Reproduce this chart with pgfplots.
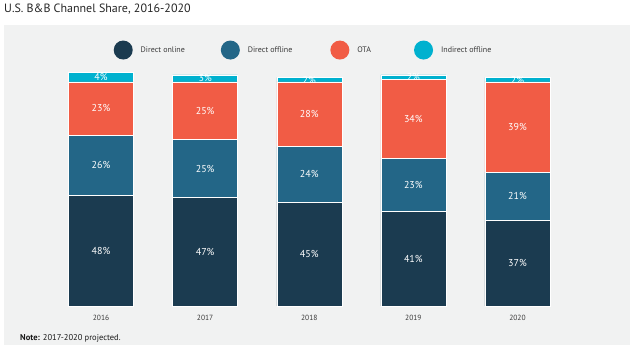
\documentclass[border=0pt]{standalone}
\usepackage{pgfplots}
\pgfplotsset{compat=1.18}
\usepackage{pgfplotstable}
\usepackage{fontspec}
\setmainfont{PT Sans}
\definecolor{conline}{HTML}{1B3B50}
\definecolor{coffline}{HTML}{236687}
\definecolor{cota}{HTML}{F15C45}
\definecolor{cind}{HTML}{00B1CF}
\definecolor{panel}{HTML}{F1F2F2}
\definecolor{txt}{HTML}{3A3A3A}
\pgfplotstableread{
x on off ota ind
0 48 26 23 4
1 47 25 25 3
2 45 24 28 2
3 41 23 34 2
4 37 21 39 2
}\datatable
\begin{document}
\begin{tikzpicture}
\useasboundingbox (0pt,0pt) rectangle (636pt,347pt);
\fill[white] (0pt,0pt) rectangle (636pt,347pt);
\fill[panel] (4pt,2pt) rectangle (630pt,322pt);
\node[anchor=base west, inner sep=0pt, font=\fontsize{12}{14}\selectfont, text=black!85] at (4pt,334pt) {U.S. B\&B Channel Share, 2016-2020};
\node[anchor=base west, inner sep=0pt, font=\fontsize{8.5}{10}\selectfont, text=black!90] at (20pt,6pt) {\textbf{Note:} 2017-2020 projected.};
\begin{axis}[
  anchor=south west, at={(49pt,41pt)},
  x=104.1pt, y=2.31pt,
  xmin=-0.5, xmax=4.5, ymin=0, ymax=100,
  ybar stacked, bar width=65pt,
  axis line style={draw=none},
  major tick style={draw=none},
  ytick=\empty,
  xtick={0,1,2,3,4}, xticklabels={2016,2017,2018,2019,2020},
  xticklabel style={anchor=base, yshift=-15pt, font=\fontsize{7.5}{9}\selectfont, text=txt},
  clip=false,
  /pgf/number format/assume math mode=true,
  nodes near coords={\textcolor{white}{\pgfmathprintnumber{\myv}\%}},
  every node near coord/.append style={anchor=center, text=white, font=\fontsize{10}{11}\selectfont},
  legend columns=4,
  legend style={draw=none, fill=none, inner sep=0pt, anchor=west, at={(0.124,1.108)}, font=\fontsize{8}{9}\selectfont, text=txt,
    /tikz/every odd column/.style={column sep=6pt},
    /tikz/every even column/.style={column sep=34pt}},
  legend image code/.code={\fill[#1,/tikz/.cd,draw=none] (9.5pt,0pt) circle (9.5pt);},
]
\addplot[fill=conline, draw=white, line width=0.4pt, visualization depends on={\thisrow{on} \as \myv}] table[x=x,y=on] {\datatable};
\addplot[fill=coffline, draw=white, line width=0.4pt, visualization depends on={\thisrow{off} \as \myv}] table[x=x,y=off] {\datatable};
\addplot[fill=cota, draw=white, line width=0.4pt, visualization depends on={\thisrow{ota} \as \myv}] table[x=x,y=ota] {\datatable};
\addplot[fill=cind, draw=white, line width=0.4pt, visualization depends on={\thisrow{ind} \as \myv}] table[x=x,y=ind] {\datatable};
\legend{Direct online, Direct offline\rule{2pt}{0pt}, OTA\rule{7pt}{0pt}, Indirect offline}
\end{axis}
\end{tikzpicture}
\end{document}
